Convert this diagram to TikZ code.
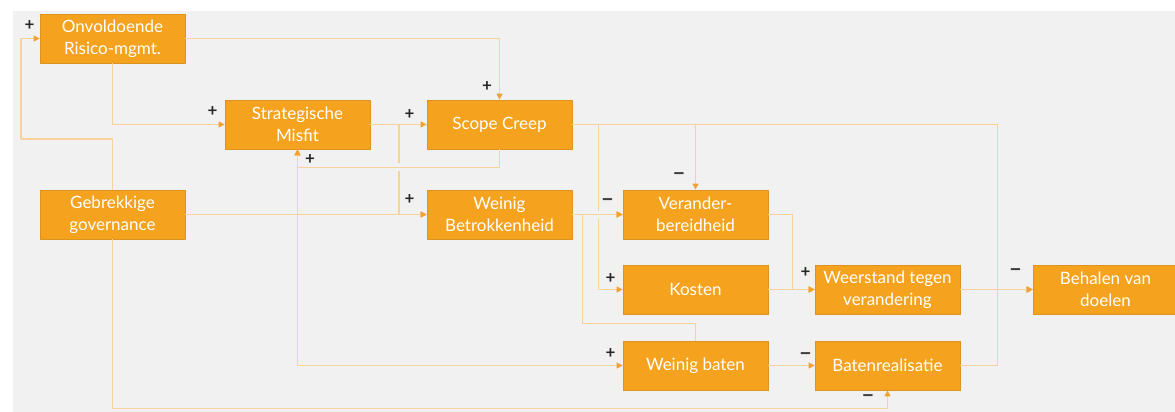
\documentclass[tikz,border=0pt]{standalone}
\usepackage{fontspec}
\setmainfont{Lato}
\usetikzlibrary{arrows.meta,calc}
\definecolor{boxfill}{HTML}{F5A31F}
\definecolor{boxline}{HTML}{DE9320}
\definecolor{linkc}{HTML}{F7D29A}
\definecolor{tipc}{HTML}{F2A030}
\definecolor{bgc}{HTML}{F1F1F1}
\newcommand{\crossgap}[1]{%
  \fill[bgc] ($(#1)+(-3,-4)$) rectangle ($(#1)+(3,4)$);
}

\begin{document}
\begin{tikzpicture}[x=1pt, y=-1pt, line join=round, >=Latex]
\tikzset{factor/.style={draw=boxline, line width=0.8pt, fill=boxfill, minimum width=145pt, minimum height=49pt, inner sep=2pt, align=center, text=white, font=\fontsize{17}{22}\selectfont},
  link/.style={draw=linkc, line width=1.3pt, -{Triangle[length=6pt,width=6pt,color=tipc]}},
  sign/.style={font=\fontsize{17}{17}\selectfont\bfseries, text=black!85, inner sep=0pt},
  minus/.style={sign, font=\fontsize{23}{23}\selectfont\bfseries, text=black!75}}

% canvas
\useasboundingbox (0,0) rectangle (1175,412);
\fill[bgc] (13,11) rectangle (1175,412);

% factors (px)
\node[factor] (onv)   at ( 112.5, 38.5) {Onvoldoende\\Risico-mgmt.};
\node[factor] (mis)   at ( 297.5,124.5) {Strategische\\Misfit};
\node[factor] (scope) at ( 499.5,124.5) {Scope Creep};
\node[factor] (gov)   at ( 112.5,214.5) {Gebrekkige\\governance};
\node[factor] (betr)  at ( 499.5,214.5) {Weinig\\Betrokkenheid};
\node[factor] (ver)   at ( 695.5,214.5) {Verander-\\bereidheid};
\node[factor] (kos)   at ( 695.5,289.5) {Kosten};
\node[factor] (baten) at ( 695.5,365.5) {Weinig baten};
\node[factor] (weer)  at ( 887.5,289.5) {Weerstand tegen\\verandering};
\node[factor] (real)  at ( 887.5,365.5) {Batenrealisatie};
\node[factor] (doel)  at (1105.5,289.5) {Behalen van\\doelen};

% helper points
\coordinate (lft) at (21,139);
\coordinate (bx) at ($(betr.east)+(10,0)$);
\coordinate (x1) at (399,167);
\coordinate (x2) at (598,214.5);

% links
\draw[link] (onv.east) -| (scope.north);
\draw[link] (onv.south) |- (mis.west);
\draw[link] (gov.north) |- (lft) |- (onv.west);
\draw[link] (mis.east) -- (scope.west);
\draw[link] (mis.east) -| (x1) |- (betr.west);
\crossgap{x1}
\draw[link] (scope.south) -- ++(0,18) -| (mis.south);
\draw[link] (gov.east) -- (betr.west);
\draw[link] (gov.east) -| (mis.south);
\draw[link] (gov.east) -- (gov.east -| mis.south) |- (baten.west);
\draw[link] (gov.south) -- ++(0,169) -| (real.south);
\draw[link] (scope.east) -| (ver.north);
\draw[link] (scope.east) -- ++(26,0) |- (kos.west);
\crossgap{x2}
\draw[link] (betr.east) -- (ver.west);
\draw[link] (baten.north) -- ++(0,-17) -| (bx) -- (ver.west);
\draw[link] (scope.east) -- ++(425,0) |- (doel.west);
\draw[link] (ver.east) -- ++(24,0) |- (weer.west);
\draw[link] (kos.east) -- (weer.west);
\draw[link] (weer.east) -- (doel.west);
\draw[link] (baten.east) -- (real.west);
\draw[link] (real.east) -- ++(37,0) |- (doel.west);

% polarity signs
\node[sign] (p1)  at ($(onv.west)+(-10,-12.5)$) {+};
\node[sign] (p2)  at ($(scope.north)+(-12.5,-13)$) {+};
\node[sign] (p3)  at ($(mis.west)+(-12,-12.5)$) {+};
\node[sign] (p4)  at ($(scope.west)+(-17,-10)$) {+};
\node[sign] (p5)  at ($(mis.south)+(12.5,10)$) {+};
\node[sign] (p6)  at ($(betr.west)+(-17,-14.5)$) {+};
\node[minus] (m1) at ($(ver.north)+(-16.5,-13)$) {\textendash};
\node[minus] (m2) at ($(ver.west)+(-15,-11.5)$) {\textendash};
\node[sign] (p7)  at ($(kos.west)+(-12,-10.5)$) {+};
\node[sign] (p8)  at ($(weer.west)+(-9,-16.5)$) {+};
\node[sign] (p9)  at ($(baten.west)+(-12,-11.5)$) {+};
\node[minus] (m3) at ($(real.west)+(-9,-8.5)$) {\textendash};
\node[minus] (m4) at ($(real.south)+(-19.5,8)$) {\textendash};
\node[minus] (m5) at ($(doel.west)+(-17,-16.5)$) {\textendash};
\end{tikzpicture}
\end{document}
